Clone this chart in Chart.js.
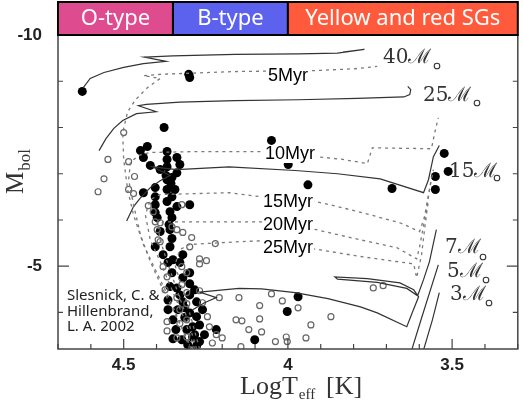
<!DOCTYPE html>
<html>
<head>
<meta charset="utf-8">
<script src="https://cdn.jsdelivr.net/npm/chart.js@4.4.0/dist/chart.umd.min.js"></script>
<style>
  html, body { margin: 0; padding: 0; background: #fff; }
</style>
</head>
<body>
<canvas id="hrd" width="523" height="401"></canvas>
<script>
// evolutionary tracks [logTeff, Mbol]
const track40 = [[4.623,-8.86],[4.602,-9.06],[4.560,-9.19],[4.500,-9.30],[4.440,-9.38],[4.371,-9.43],[4.437,-9.52],[4.350,-9.55],[4.161,-9.58],[3.969,-9.59],[3.849,-9.61],[3.767,-9.69],[3.833,-9.63]];
const track25 = [[4.575,-7.50],[4.554,-7.76],[4.530,-7.98],[4.503,-8.15],[4.461,-8.30],[4.401,-8.34],[4.455,-8.47],[4.431,-8.50],[4.329,-8.55],[4.161,-8.58],[3.969,-8.60],[3.789,-8.63],[3.647,-8.66],[3.629,-8.71],[3.626,-8.82],[3.635,-8.89]];
const track15 = [[4.491,-5.98],[4.470,-6.29],[4.449,-6.48],[4.419,-6.70],[4.389,-6.85],[4.359,-6.96],[4.413,-7.15],[4.338,-7.09],[4.179,-7.15],[3.978,-7.07],[3.849,-7.00],[3.719,-6.89],[3.587,-6.59],[3.572,-6.87],[3.557,-7.37],[3.539,-7.61]];
const track7 = [[4.290,-4.06],[4.254,-4.21],[4.218,-4.32],[4.269,-4.44],[4.149,-4.52],[4.080,-4.51],[3.978,-4.43],[3.878,-4.30],[3.779,-4.12],[3.728,-3.99],[3.638,-3.69],[3.620,-4.02],[3.602,-4.34],[3.617,-4.49],[3.659,-4.64],[3.758,-4.73],[3.857,-4.77],[3.849,-4.72],[3.728,-4.65],[3.638,-4.52],[3.605,-4.36],[3.587,-4.71],[3.569,-5.10],[3.548,-5.79]];
const track5 = [[3.623,-3.19],[3.593,-3.88],[3.542,-5.03]];
const track3 = [[3.587,-3.19],[3.560,-3.84],[3.539,-4.43]];

// isochrones
const iso5 = [[4.299,-3.21],[4.320,-3.63],[4.359,-4.27],[4.404,-4.93],[4.440,-5.47],[4.470,-6.11],[4.488,-6.66],[4.500,-7.31],[4.503,-7.89],[4.488,-8.34],[4.464,-8.60],[4.428,-8.86],[4.389,-9.06],[4.440,-9.12],[4.389,-9.15],[4.161,-9.21],[3.917,-9.23],[3.797,-9.27],[3.728,-9.32]];
const iso10 = [[4.293,-3.21],[4.335,-3.84],[4.380,-4.49],[4.419,-5.10],[4.449,-5.68],[4.470,-6.33],[4.485,-6.87],[4.479,-7.26],[4.449,-7.41],[4.419,-7.46],[4.269,-7.48],[4.089,-7.48],[3.914,-7.37],[3.833,-7.31],[3.758,-7.22],[3.743,-7.56],[3.563,-7.54],[3.554,-7.85],[3.542,-8.21]];
const iso15 = [[4.284,-3.21],[4.314,-3.84],[4.353,-4.49],[4.389,-5.10],[4.419,-5.57],[4.434,-6.11],[4.419,-6.44],[4.389,-6.55],[4.179,-6.59],[4.080,-6.50],[3.917,-6.40],[3.848,-6.29],[3.749,-6.11],[3.659,-5.94],[3.599,-5.75],[3.584,-6.07],[3.569,-6.66],[3.557,-7.09]];
const iso20 = [[4.278,-3.21],[4.305,-3.84],[4.338,-4.49],[4.368,-5.10],[4.389,-5.57],[4.395,-5.83],[4.380,-5.96],[4.179,-5.96],[4.080,-5.96],[3.914,-5.79],[3.779,-5.57],[3.668,-5.40],[3.608,-5.16],[3.599,-5.42],[3.578,-6.22],[3.563,-6.92]];
const iso25 = [[4.269,-3.21],[4.293,-3.84],[4.320,-4.49],[4.344,-5.03],[4.329,-5.36],[4.299,-5.47],[4.149,-5.53],[4.080,-5.55],[3.908,-5.36],[3.779,-5.21],[3.617,-5.05],[3.608,-4.75],[3.593,-5.25],[3.584,-5.79],[3.572,-6.44]];

// stars
const filledStars = [[4.626,-8.78],[4.302,-9.15],[4.299,-9.08],[4.377,-8.00],[4.449,-7.50],[4.428,-7.59],[4.440,-7.35],[4.419,-7.18],[4.368,-7.48],[4.368,-7.31],[4.338,-7.35],[4.368,-7.15],[4.338,-7.02],[4.368,-6.87],[4.356,-6.79],[4.368,-6.66],[4.353,-6.50],[4.440,-6.59],[4.404,-6.70],[4.404,-6.50],[4.404,-6.33],[4.368,-6.40],[4.338,-6.29],[4.299,-6.33],[4.404,-6.16],[4.359,-6.18],[4.353,-6.05],[4.398,-6.05],[4.359,-5.79],[4.353,-5.60],[4.404,-5.42],[4.359,-5.42],[4.365,-5.08],[4.350,-5.14],[4.329,-5.08],[4.353,-4.86],[4.299,-4.86],[4.359,-4.56],[4.338,-4.53],[4.299,-4.62],[4.365,-4.27],[4.320,-4.23],[4.278,-4.23],[4.299,-3.99],[4.278,-3.91],[4.260,-4.06],[4.350,-3.84],[4.290,-3.69],[4.218,-3.63],[4.290,-3.47],[4.269,-3.37],[4.350,-3.43],[4.323,-3.41],[4.278,-3.28],[4.299,-4.38],[4.314,-3.89],[4.308,-3.63],[4.050,-7.72],[3.999,-7.20],[3.939,-6.76],[3.683,-6.68],[3.551,-6.94],[3.551,-6.66],[3.512,-7.05],[3.524,-7.44],[3.969,-4.34],[4.002,-4.02],[4.101,-3.41],[4.371,-6.96],[4.353,-6.92],[4.362,-5.90],[4.320,-4.75],[4.335,-4.06],[4.284,-3.52],[4.380,-5.25],[4.329,-4.38],[4.284,-4.49],[4.314,-4.10],[4.269,-3.73],[4.254,-3.52],[4.305,-3.30],[4.341,-3.63],[4.365,-4.06],[4.320,-5.25],[4.389,-5.75],[4.344,-6.66],[4.389,-7.09],[4.329,-7.20]];
const openStars = [[4.500,-7.89],[4.548,-7.31],[4.485,-7.26],[4.560,-6.89],[4.467,-6.94],[4.578,-6.61],[4.485,-6.66],[4.470,-6.57],[4.425,-6.31],[4.410,-6.18],[4.404,-5.96],[4.389,-5.94],[4.398,-5.79],[4.323,-6.33],[4.338,-5.79],[4.320,-5.73],[4.293,-5.62],[4.353,-5.85],[4.395,-5.57],[4.389,-5.53],[4.299,-5.42],[4.221,-5.49],[4.269,-5.16],[4.248,-5.12],[4.269,-5.05],[4.380,-4.99],[4.323,-4.99],[4.308,-4.86],[4.368,-4.77],[4.323,-4.60],[4.374,-4.49],[4.308,-4.43],[4.269,-4.47],[4.209,-4.32],[4.338,-4.32],[4.308,-4.19],[4.260,-4.21],[4.329,-4.06],[4.245,-3.91],[4.308,-3.84],[4.368,-3.80],[4.329,-3.76],[4.368,-3.60],[4.239,-3.69],[4.218,-3.52],[4.200,-3.45],[4.230,-3.34],[4.338,-3.45],[4.308,-3.47],[4.149,-4.32],[4.050,-4.40],[4.017,-4.25],[3.969,-4.10],[4.086,-4.15],[4.158,-3.84],[4.140,-3.82],[4.086,-3.86],[4.119,-3.63],[4.080,-3.58],[3.930,-3.73],[3.869,-3.91],[3.945,-3.45],[4.038,-3.37],[4.002,-3.37],[4.005,-3.47],[4.143,-3.26],[3.740,-4.53],[3.710,-4.58]];

// axes and labels
const xTicks = [4.5, 4, 3.5];
const yTicks = [-10, -5];
const massNames = ['40', '25', '15', '7', '5', '3'];
const ageNames = ['5Myr', '10Myr', '15Myr', '20Myr', '25Myr'];
const typeNames = ['O-type', 'B-type', 'Yellow and red SGs'];
const typeBounds = [4.7, 4.35, 4.0, 3.3];
const typeColors = ['#df4b8f', '#5d62ee', '#ff5a3c'];

// label placement (pixels)
const massPos = [[383, 63, 437, 66], [423, 101, 477, 103], [449, 177, 497, 178], [445, 253, 483, 257], [447, 277, 486, 280], [450, 300, 489, 303]];
const agePos = [[268, 81], [265, 159], [263, 207], [263, 230], [263, 253]];

function pts(arr) {
    return arr.map(function (p) { return { x: p[0], y: p[1] }; });
}

function lineSet(arr, dashed) {
    return {
        data: pts(arr),
        showLine: true,
        borderColor: dashed ? '#7a7a7a' : '#333',
        borderWidth: dashed ? 1.3 : 1.2,
        borderDash: dashed ? [3, 4] : [],
        pointRadius: 0,
        fill: false,
        tension: 0
    };
}

const datasets = [
    lineSet(iso5, true), lineSet(iso10, true), lineSet(iso15, true), lineSet(iso20, true), lineSet(iso25, true),
    lineSet(track40, false), lineSet(track25, false), lineSet(track15, false),
    lineSet(track7, false), lineSet(track5, false), lineSet(track3, false),
    {
        data: pts(openStars),
        pointRadius: 3,
        pointBackgroundColor: 'rgba(255,255,255,0)',
        pointBorderColor: '#666',
        pointBorderWidth: 1.2
    },
    {
        data: pts(filledStars),
        pointRadius: 4.5,
        pointBackgroundColor: '#000',
        pointBorderWidth: 0
    }
];

const decor = {
    id: 'decor',
    afterDatasetsDraw: function (chart) {
        const ctx = chart.ctx;
        const a = chart.chartArea;
        const xs = chart.scales.x, ys = chart.scales.y;
        ctx.save();

        // age labels
        ctx.font = '18px "Liberation Sans"';
        ctx.textBaseline = 'alphabetic';
        ctx.textAlign = 'left';
        ageNames.forEach(function (t, i) {
            const w = ctx.measureText(t).width;
            ctx.fillStyle = '#fff';
            ctx.fillRect(agePos[i][0] - 1, agePos[i][1] - 14, w + 2, 18);
            ctx.fillStyle = '#000';
            ctx.fillText(t, agePos[i][0], agePos[i][1]);
        });

        // mass labels
        massNames.forEach(function (t, i) {
            const p = massPos[i];
            ctx.fillStyle = '#333';
            ctx.font = '20px "DejaVu Serif"';
            ctx.fillText(t + '\u2133', p[0], p[1]);
            ctx.beginPath();
            ctx.strokeStyle = '#333';
            ctx.lineWidth = 1.1;
            ctx.arc(p[2], p[3], 2.8, 0, Math.PI * 2);
            ctx.stroke();
        });

        // reference
        ctx.fillStyle = '#222';
        ctx.font = '15px "Noto Sans"';
        ctx.fillText('Slesnick, C. &', 67, 300);
        ctx.fillText('Hillenbrand,', 67, 316);
        ctx.fillText('L. A. 2002', 67, 331);

        // frame
        ctx.strokeStyle = '#444';
        ctx.lineWidth = 1.5;
        ctx.strokeRect(a.left, a.top, a.right - a.left, a.bottom - a.top);

        // inward ticks
        ctx.lineWidth = 1.2;
        ctx.beginPath();
        for (let v = 33; v <= 47; v++) {
            const px = xs.getPixelForValue(v / 10);
            const len = (v % 5 === 0) ? 10 : 5;
            ctx.moveTo(px, a.bottom);
            ctx.lineTo(px, a.bottom - len);
        }
        for (let v = -10; v <= -4; v++) {
            const py = ys.getPixelForValue(v);
            const len = (v % 5 === 0) ? 11 : 5;
            ctx.moveTo(a.left, py);
            ctx.lineTo(a.left + len, py);
            ctx.moveTo(a.right, py);
            ctx.lineTo(a.right - len, py);
        }
        ctx.stroke();

        // spectral type header
        ctx.font = '22px "Noto Sans"';
        ctx.textAlign = 'center';
        ctx.textBaseline = 'middle';
        for (let i = 0; i < typeNames.length; i++) {
            const x0 = xs.getPixelForValue(typeBounds[i]);
            const x1 = xs.getPixelForValue(typeBounds[i + 1]);
            ctx.fillStyle = typeColors[i];
            ctx.fillRect(x0, 2, x1 - x0, a.top - 2);
            ctx.strokeStyle = '#000';
            ctx.lineWidth = 2;
            ctx.strokeRect(x0, 2, x1 - x0, a.top - 2);
            ctx.fillStyle = '#fff';
            ctx.fillText(typeNames[i], (x0 + x1) / 2, 19);
        }

        // axis titles
        ctx.fillStyle = '#333';
        ctx.textAlign = 'left';
        ctx.textBaseline = 'alphabetic';
        ctx.font = '26px "Liberation Serif"';
        ctx.fillText('LogT', 240, 394);
        const wl = ctx.measureText('LogT').width;
        ctx.font = '15px "Liberation Serif"';
        ctx.fillText('eff', 241 + wl, 399);
        ctx.font = '26px "Liberation Serif"';
        ctx.fillText('[K]', 326, 394);

        ctx.translate(23, 194);
        ctx.rotate(-Math.PI / 2);
        ctx.font = '25px "Liberation Serif"';
        ctx.fillText('M', 0, 0);
        const w = ctx.measureText('M').width;
        ctx.font = '17px "Liberation Serif"';
        ctx.fillText('bol', w + 1, 7);
        ctx.restore();
    }
};

new Chart(document.getElementById('hrd'), {
    type: 'scatter',
    data: { datasets: datasets },
    options: {
        responsive: false,
        animation: false,
        events: [],
        layout: { padding: { left: 0, right: 2, top: 35, bottom: 0 } },
        plugins: { legend: { display: false }, tooltip: { enabled: false } },
        scales: {
            x: {
                type: 'linear', reverse: true, min: 3.3, max: 4.7,
                afterBuildTicks: function (s) { s.ticks = xTicks.map(function (v) { return { value: v }; }); },
                afterFit: function (s) { s.height = 52; },
                grid: { display: false },
                border: { display: false },
                ticks: {
                    color: '#222', padding: -2, maxRotation: 0, autoSkip: false,
                    font: { family: 'Liberation Sans', size: 17, weight: 'bold' },
                    callback: function (v) { return String(v); }
                }
            },
            y: {
                type: 'linear', reverse: true, min: -10, max: -3.21,
                afterBuildTicks: function (s) { s.ticks = yTicks.map(function (v) { return { value: v }; }); },
                afterFit: function (s) { s.width = 58; },
                grid: { display: false },
                border: { display: false },
                ticks: {
                    color: '#222', padding: 8, autoSkip: false,
                    font: { family: 'Liberation Sans', size: 17, weight: 'bold' },
                    callback: function (v) { return String(v); }
                }
            }
        }
    },
    plugins: [decor]
});
</script>
</body>
</html>
